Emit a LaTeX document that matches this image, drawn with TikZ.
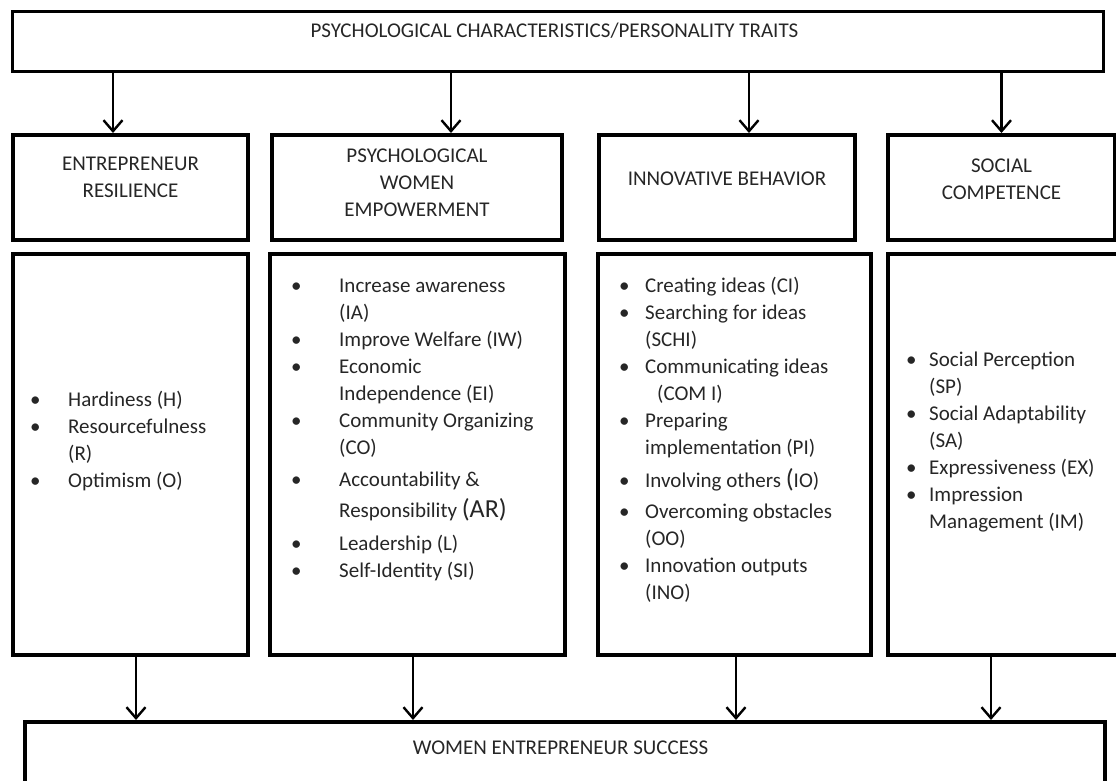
\documentclass[tikz,border=0pt]{standalone}
\usepackage{fontspec}
\setmainfont{Carlito}
\usetikzlibrary{arrows.meta}

\begin{document}
\begin{tikzpicture}[x=1pt,y=-1pt,
    box/.style={draw, line width=4pt, anchor=north west, inner sep=0pt},
    txt/.style={inner sep=0pt, anchor=base, text=black!85, font=\fontsize{21}{27}\selectfont},
    lst/.style={inner sep=0pt, anchor=base west, text=black!85, font=\fontsize{21}{27}\selectfont},
    arr/.style={line width=2.4pt, -{Straight Barb[length=11pt,width=19pt]}}]
          \clip (0,0) rectangle (1116,780);

          % Top box
          \node[box, line width=3pt, minimum width=1091pt, minimum height=60pt] (pc) at (11,10) {};
          \node[txt] (pc-t) at (554.5,37) {PSYCHOLOGICAL CHARACTERISTICS/PERSONALITY TRAITS};

          % Header boxes
          \node[box, minimum width=235pt, minimum height=105pt] (er) at (11,133) {};
          \node[box, minimum width=290pt, minimum height=105pt] (pwe) at (270,133) {};
          \node[box, minimum width=256pt, minimum height=105pt] (ib) at (597,133) {};
          \node[box, minimum width=227pt, minimum height=105pt] (sc) at (886,133) {};
          \node[txt] (er-t) at ([yshift=-37pt]er.north) {\begin{tabular}[t]{@{}c@{}}ENTREPRENEUR\\RESILIENCE\end{tabular}};
          \node[txt] (pwe-t) at ([yshift=-29pt]pwe.north) {\begin{tabular}[t]{@{}c@{}}PSYCHOLOGICAL\\WOMEN\\EMPOWERMENT\end{tabular}};
          \node[txt] (ib-t) at ([yshift=-52pt]ib.north) {INNOVATIVE BEHAVIOR};
          \node[txt] (sc-t) at ([yshift=-39pt]sc.north) {\begin{tabular}[t]{@{}c@{}}SOCIAL\\COMPETENCE\end{tabular}};

          % Item boxes
          \node[box, minimum width=235pt, minimum height=401pt] (er-b) at (11,252) {};
          \node[box, minimum width=295pt, minimum height=401pt] (pwe-b) at (268,252) {};
          \node[box, minimum width=273pt, minimum height=401pt] (ib-b) at (596,252) {};
          \node[box, minimum width=230pt, minimum height=401pt] (sc-b) at (886,252) {};

          % Items; entrepreneur resilience
          \node[lst] (er-l) at (30,406) {\begin{tabular}[t]{@{}p{38pt}@{}l@{}}
            \textbullet & Hardiness (H)\\
            \textbullet & Resourcefulness\\
             & (R)\\
            \textbullet & Optimism (O)
          \end{tabular}};

          % Items; psychological women empowerment
          \node[lst] (pwe-l) at (291,292) {\begin{tabular}[t]{@{}p{48pt}@{}l@{}}
            \textbullet & Increase awareness\\
             & (IA)\\
            \textbullet & Improve Welfare (IW)\\
            \textbullet & Economic\\
             & Independence (EI)\\
            \textbullet & Community Organizing\\
             & (CO)\\[5pt]
            \textbullet & Accountability \&\\[4pt]
             & Responsibility {\fontsize{26}{27}\selectfont (AR)}\\[6pt]
            \textbullet & Leadership (L)\\
            \textbullet & Self-Identity (SI)
          \end{tabular}};

          % Items; innovative behavior
          \node[lst] (ib-l) at (619,292) {\begin{tabular}[t]{@{}p{26pt}@{}l@{}}
            \textbullet & Creating ideas (CI)\\
            \textbullet & Searching for ideas\\
             & (SCHI)\\
            \textbullet & Communicating ideas\\
             & \hspace{12pt}(COM I)\\
            \textbullet & Preparing\\
             & implementation (PI)\\[6pt]
            \textbullet & Involving others {\fontsize{26}{27}\selectfont(}IO)\\[4pt]
            \textbullet & Overcoming obstacles\\
             & (OO)\\
            \textbullet & Innovation outputs\\
             & (INO)
          \end{tabular}};

          % Items; social competence
          \node[lst] (sc-l) at (906,366) {\begin{tabular}[t]{@{}p{23pt}@{}l@{}}
            \textbullet & Social Perception\\
             & (SP)\\
            \textbullet & Social Adaptability\\
             & (SA)\\
            \textbullet & Expressiveness (EX)\\
            \textbullet & Impression\\
             & Management (IM)
          \end{tabular}};

          % Bottom box
          \node[box, minimum width=1080pt, minimum height=70pt] (wes) at (23,720) {};
          \node[txt] (wes-t) at (560.5,754) {WOMEN ENTREPRENEUR SUCCESS};

          % Arrows down from the traits
          \draw[arr] ([xshift=-17.5pt]er.north |- pc.south) -- ([xshift=-17.5pt]er.north);
          \draw[arr] ([xshift=34pt]pwe.north |- pc.south) -- ([xshift=34pt]pwe.north);
          \draw[arr] ([xshift=22pt]ib.north |- pc.south) -- ([xshift=22pt]ib.north);
          \draw[arr] (sc.north |- pc.south) -- (sc.north);

          % Arrows down to success
          \draw[arr] ([xshift=5.5pt]er-b.south) -- ([xshift=5.5pt]er-b.south |- wes.north);
          \draw[arr] ([xshift=-4.5pt]pwe-b.south) -- ([xshift=-4.5pt]pwe-b.south |- wes.north);
          \draw[arr] ([xshift=1.5pt]ib-b.south) -- ([xshift=1.5pt]ib-b.south |- wes.north);
          \draw[arr] ([xshift=-12pt]sc-b.south) -- ([xshift=-12pt]sc-b.south |- wes.north);

        \end{tikzpicture}
\end{document}
